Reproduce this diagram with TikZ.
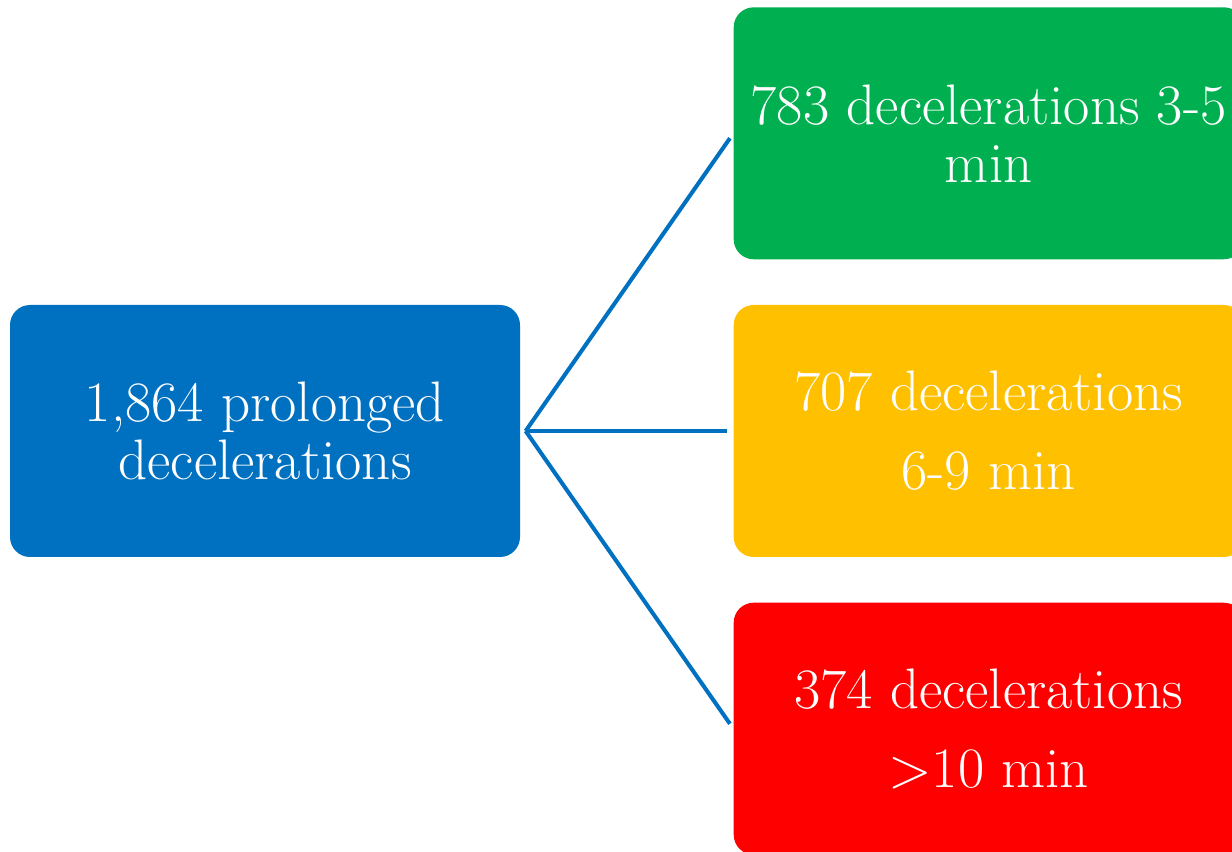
\documentclass[tikz,border=0pt]{standalone}
\usepackage{fontspec}
\usepackage{tikz}
\usetikzlibrary{positioning}
\definecolor{rootblue}{HTML}{0070C0}
\definecolor{shortgreen}{HTML}{00B050}
\definecolor{midyellow}{HTML}{FFC000}
\definecolor{longred}{HTML}{FF0000}
\tikzstyle{box} = [rectangle, rounded corners=0.4cm, minimum width=10.2cm, minimum height=5.04cm, text centered, text=white, font=\fontsize{32.5}{33}\selectfont]
\tikzstyle{link} = [draw=rootblue, line width=2.3pt, shorten >=3.4pt]

\begin{document}
\begin{tikzpicture}[node distance=0.9cm, align=center]
    % frame of the slide
    \useasboundingbox (0,0) rectangle (24.64,17.02);
    \clip (0,0) rectangle (24.64,17.02);
    % boxes
    \node (root) [box, fill=rootblue] at (5.30,8.40) {1,864 prolonged\\decelerations};
    \node (mid) [box, fill=midyellow, right=4.26cm of root] {707 decelerations\\[12pt]6-9 min};
    \node (short) [box, fill=shortgreen, above=of mid] {783 decelerations 3-5\\min};
    \node (long) [box, fill=longred, below=of mid] {374 decelerations\\[12pt]>10 min};
    % links
    \coordinate (fork) at ([xshift=3pt]root.east);
    \draw [link] (fork) -- (short.west);
    \draw [link] (fork) -- (mid.west);
    \draw [link] (fork) -- (long.west);
\end{tikzpicture}
\end{document}
